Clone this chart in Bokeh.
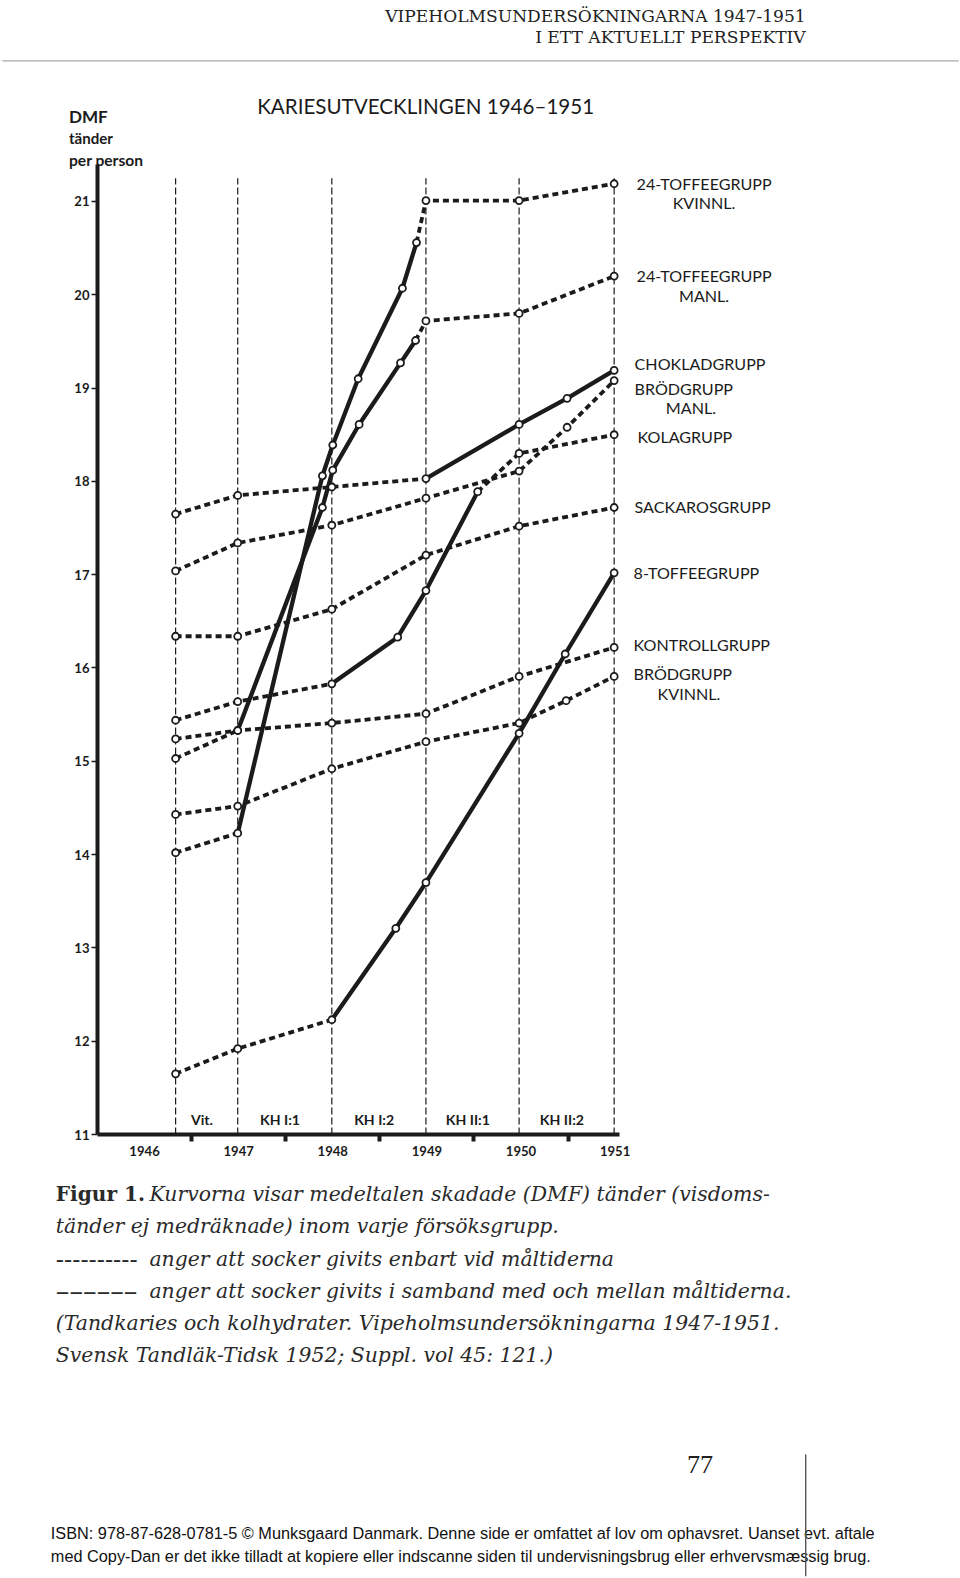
from bokeh.plotting import figure
from bokeh.models import Range1d, FixedTicker, LinearAxis, Label
from bokeh.core.properties import value
from bokeh.embed import file_html
from bokeh.resources import INLINE

INK = "#1b1b1b"

# ---------------- data ----------------
exam_times = [1946.83, 1947.49, 1948.49, 1949.49, 1950.48, 1951.49]
year_names = ["1946", "1947", "1948", "1949", "1950", "1951"]
year_label_pos = [1946.5, 1947.5, 1948.5, 1949.5, 1950.5, 1951.5]
year_bounds = [1947, 1948, 1949, 1950, 1951]
dmf_ticks = [11, 12, 13, 14, 15, 16, 17, 18, 19, 20, 21]
period_names = ["Vit.", "KH I:1", "KH I:2", "KH II:1", "KH II:2"]

# segment style per interval: d = socker enbart vid måltiderna, s = även mellan måltiderna
toffee24_kvinnl_t = [1946.83, 1947.49, 1948.39, 1948.50, 1948.77, 1949.24, 1949.39, 1949.49, 1950.48, 1951.49]
toffee24_kvinnl_v = [14.02, 14.23, 18.06, 18.39, 19.10, 20.07, 20.56, 21.01, 21.01, 21.19]
toffee24_kvinnl_s = "dsssssddd"

toffee24_manl_t = [1946.83, 1947.49, 1948.39, 1948.50, 1948.78, 1949.22, 1949.38, 1949.49, 1950.48, 1951.49]
toffee24_manl_v = [15.03, 15.33, 17.72, 18.12, 18.61, 19.27, 19.51, 19.72, 19.80, 20.20]
toffee24_manl_s = "dsssssddd"

choklad_t = [1946.83, 1947.49, 1948.49, 1949.49, 1950.48, 1950.99, 1951.49]
choklad_v = [17.65, 17.85, 17.94, 18.03, 18.61, 18.89, 19.19]
choklad_s = "dddsss"

brod_manl_t = [1946.83, 1947.49, 1948.49, 1949.49, 1950.48, 1950.99, 1951.49]
brod_manl_v = [17.04, 17.34, 17.53, 17.82, 18.11, 18.58, 19.08]
brod_manl_s = "dddddd"

kola_t = [1946.83, 1947.49, 1948.49, 1949.19, 1949.49, 1950.04, 1950.48, 1951.49]
kola_v = [15.44, 15.64, 15.83, 16.33, 16.83, 17.89, 18.30, 18.50]
kola_s = "ddsssdd"

sackaros_t = [1946.83, 1947.49, 1948.49, 1949.49, 1950.48, 1951.49]
sackaros_v = [16.34, 16.34, 16.63, 17.21, 17.52, 17.72]
sackaros_s = "ddddd"

toffee8_t = [1946.83, 1947.49, 1948.49, 1949.17, 1949.49, 1950.48, 1950.97, 1951.49]
toffee8_v = [11.65, 11.92, 12.23, 13.21, 13.70, 15.30, 16.15, 17.02]
toffee8_s = "ddsssss"

kontroll_t = [1946.83, 1947.49, 1948.49, 1949.49, 1950.48, 1951.49]
kontroll_v = [15.24, 15.33, 15.41, 15.51, 15.91, 16.22]
kontroll_s = "ddddd"

brod_kvinnl_t = [1946.83, 1947.49, 1948.49, 1949.49, 1950.48, 1950.98, 1951.49]
brod_kvinnl_v = [14.43, 14.52, 14.92, 15.21, 15.41, 15.65, 15.91]
brod_kvinnl_s = "dddddd"

series = [
    (toffee24_kvinnl_t, toffee24_kvinnl_v, toffee24_kvinnl_s),
    (toffee24_manl_t, toffee24_manl_v, toffee24_manl_s),
    (choklad_t, choklad_v, choklad_s),
    (brod_manl_t, brod_manl_v, brod_manl_s),
    (kola_t, kola_v, kola_s),
    (sackaros_t, sackaros_v, sackaros_s),
    (toffee8_t, toffee8_v, toffee8_s),
    (kontroll_t, kontroll_v, kontroll_s),
    (brod_kvinnl_t, brod_kvinnl_v, brod_kvinnl_s),
]

group_labels = ["24-TOFFEEGRUPP", "KVINNL.", "24-TOFFEEGRUPP", "MANL.", "CHOKLADGRUPP",
                "BRÖDGRUPP", "MANL.", "KOLAGRUPP", "SACKAROSGRUPP", "8-TOFFEEGRUPP",
                "KONTROLLGRUPP", "BRÖDGRUPP", "KVINNL."]

# ---------------- geometry ----------------
K = 1.0065                 # css px per picture px (the photo is slightly reduced)
W, H = 960, 1578
FL, FB = 97, 444           # frame left border, bottom border (css px)
PXY, PXU = 93.5, 92.7      # picture px per year / per DMF unit


def tx(px):                # picture x -> year
    return 1946 + (px - FL / K) / PXY


def ty(py):                # picture y -> DMF
    return 11 + ((H - FB) / K - py) / PXU


def fs(n):
    return f"{n * K:.1f}px"


p = figure(width=W, height=H,
           x_range=Range1d(1946, tx(W / K)), y_range=Range1d(11, ty(0)),
           toolbar_location=None, output_backend="svg", title=None,
           x_axis_type=None, y_axis_type=None,
           min_border_left=FL, min_border_right=0, min_border_top=0, min_border_bottom=FB)
p.outline_line_color = None
p.background_fill_color = "white"
p.border_fill_color = "white"

xaxis = LinearAxis(bounds=(1946, 1951.55))
xaxis.ticker = FixedTicker(ticks=year_label_pos, minor_ticks=year_bounds)
xaxis.major_label_overrides = {k: v for k, v in zip(year_label_pos, year_names)}
xaxis.axis_line_width = 4
xaxis.axis_line_color = INK
xaxis.major_tick_line_color = None
xaxis.major_tick_out = 0
xaxis.major_tick_in = 0
xaxis.minor_tick_out = 7
xaxis.minor_tick_in = 0
xaxis.minor_tick_line_width = 4
xaxis.minor_tick_line_color = INK
xaxis.major_label_standoff = 4
xaxis.major_label_text_font = "Lato"
xaxis.major_label_text_font_style = "bold"
xaxis.major_label_text_font_size = fs(13)
xaxis.major_label_text_color = INK
p.add_layout(xaxis, "below")

yaxis = LinearAxis(bounds=(11, 21.4))
yaxis.ticker = FixedTicker(ticks=dmf_ticks, minor_ticks=[])
yaxis.axis_line_width = 4
yaxis.axis_line_color = INK
yaxis.major_tick_out = 6
yaxis.major_tick_in = 0
yaxis.major_tick_line_width = 1.5
yaxis.major_tick_line_color = INK
yaxis.minor_tick_out = 0
yaxis.major_label_standoff = 2
yaxis.major_label_text_font = "Lato"
yaxis.major_label_text_font_style = "bold"
yaxis.major_label_text_font_size = fs(13)
yaxis.major_label_text_color = INK
p.add_layout(yaxis, "left")

# vertical examination lines
p.segment(x0=exam_times, y0=[11] * len(exam_times), x1=exam_times, y1=[21.25] * len(exam_times),
          line_color=INK, line_width=1.2, line_dash="7 3")

# period names between examinations
period_x = [(a + b) / 2 - 0.05 for a, b in zip(exam_times[:-1], exam_times[1:])]
p.text(x=period_x, y=[ty(1112)] * len(period_names), text=period_names,
       text_font=value("Lato"), text_font_style="bold", text_font_size=fs(14),
       text_align="center", text_baseline="middle", text_color=INK)

# curves
mx, my = [], []
for t, v, seg in series:
    start = 0
    for i in range(1, len(seg) + 1):
        if i == len(seg) or seg[i] != seg[start]:
            xs, ys = t[start:i + 1], v[start:i + 1]
            if seg[start] == "s":
                p.line(xs, ys, line_width=4.3, line_color=INK, line_cap="round", line_join="round")
            else:
                p.line(xs, ys, line_width=3.8, line_color=INK, line_dash="6 4")
            start = i
    mx += t
    my += v
p.scatter(mx, my, marker="circle", size=7, fill_color="white", line_color=INK, line_width=1.8)

# group labels at the right
lab_px = [632, 699, 632, 699, 630, 630, 686, 633, 630, 629, 629, 629, 684]
lab_py = [182, 201, 273, 293, 361, 385, 404, 433, 503, 568, 640, 669, 689]
lab_al = ["left", "center", "left", "center", "left", "left", "center", "left", "left",
          "left", "left", "left", "center"]
for txt, px, py, al in zip(group_labels, lab_px, lab_py, lab_al):
    p.text(x=[tx(px)], y=[ty(py)], text=[txt], text_font=value("Lato"), text_font_size=fs(16),
           text_align=al, text_baseline="middle", text_color=INK)

# chart title
p.text(x=[tx(255)], y=[ty(105)], text=["KARIESUTVECKLINGEN 1946–1951"], text_font=value("Lato"),
       text_font_size=fs(20.5), text_align="left", text_baseline="middle", text_color=INK)

# running head
p.text(x=[tx(800), tx(800)], y=[ty(15), ty(36)],
       text=["VIPEHOLMSUNDERSÖKNINGARNA 1947-1951", "I ETT AKTUELLT PERSPEKTIV"],
       text_font=value("DejaVu Serif"), text_font_size=fs(17), text_align="right",
       text_baseline="middle", text_color="#222222")


def rule(cx, cy, pad_h, pad_v, fill, edge, edge_w, panel):
    # a thin box drawn as the padded background of a blank label (side panels are not clipped)
    p.add_layout(Label(x=tx(cx), y=ty(cy), text=" ", text_font_size="1px", text_align="center",
                       text_baseline="middle", padding=(pad_h, pad_v),
                       background_fill_color=fill, border_line_color=edge,
                       border_line_width=edge_w), panel)


rule(477, 60, 478, 0, "#a8a8a8", None, 1, "below")          # header rule (wide, ~1 px high)
rule(800, 1505, 0, 60, "#555555", "#555555", 1.1, "left")   # rule by the page number (tall, ~1 px wide)


def lab(px, py, text, font, size, style="normal", align="left", color=INK):
    p.add_layout(Label(x=tx(px), y=ty(py), text=text, text_font=font, text_font_size=fs(size),
                       text_font_style=style, text_align=align, text_baseline="middle",
                       text_color=color), "below")


# y-axis caption
lab(68, 115, "DMF", "Lato", 17, "bold")
lab(68, 137, "tänder", "Lato", 15, "bold")
lab(68, 158, "per person", "Lato", 15.5, "bold")

# figure caption
CAP = "#2a2a2a"
SER = "DejaVu Serif"
lab(55, 1186, "Figur 1.", SER, 20, "bold", color=CAP)
lab(148, 1186, "Kurvorna visar medeltalen skadade (DMF) tänder (visdoms-", SER, 20.3, "italic", color=CAP)
lab(55, 1218, "tänder ej medräknade) inom varje försöksgrupp.", SER, 20.3, "italic", color=CAP)
lab(55, 1250, "----------", SER, 24, color=CAP)
lab(148, 1250, "anger att socker givits enbart vid måltiderna", SER, 20.3, "italic", color=CAP)
lab(55, 1283, "––––––", SER, 27, color=CAP)
lab(148, 1282, "anger att socker givits i samband med och mellan måltiderna.", SER, 20.3, "italic", color=CAP)
lab(55, 1314, "(Tandkaries och kolhydrater. Vipeholmsundersökningarna 1947-1951.", SER, 20.3, "italic", color=CAP)
lab(55, 1346, "Svensk Tandläk-Tidsk 1952; Suppl. vol 45: 121.)", SER, 20.3, "italic", color=CAP)

# page number and footer
lab(695, 1455, "77", "Liberation Serif", 26, align="center", color="#222222")
lab(50, 1523, "ISBN: 978-87-628-0781-5 © Munksgaard Danmark. Denne side er omfattet af lov om ophavsret. Uanset evt. aftale",
    "Liberation Sans", 16.2, color="#111111")
lab(50, 1545, "med Copy-Dan er det ikke tilladt at kopiere eller indscanne siden til undervisningsbrug eller erhvervsmæssig brug.",
    "Liberation Sans", 16.2, color="#111111")

open("out.html", "w").write(file_html(p, INLINE))
